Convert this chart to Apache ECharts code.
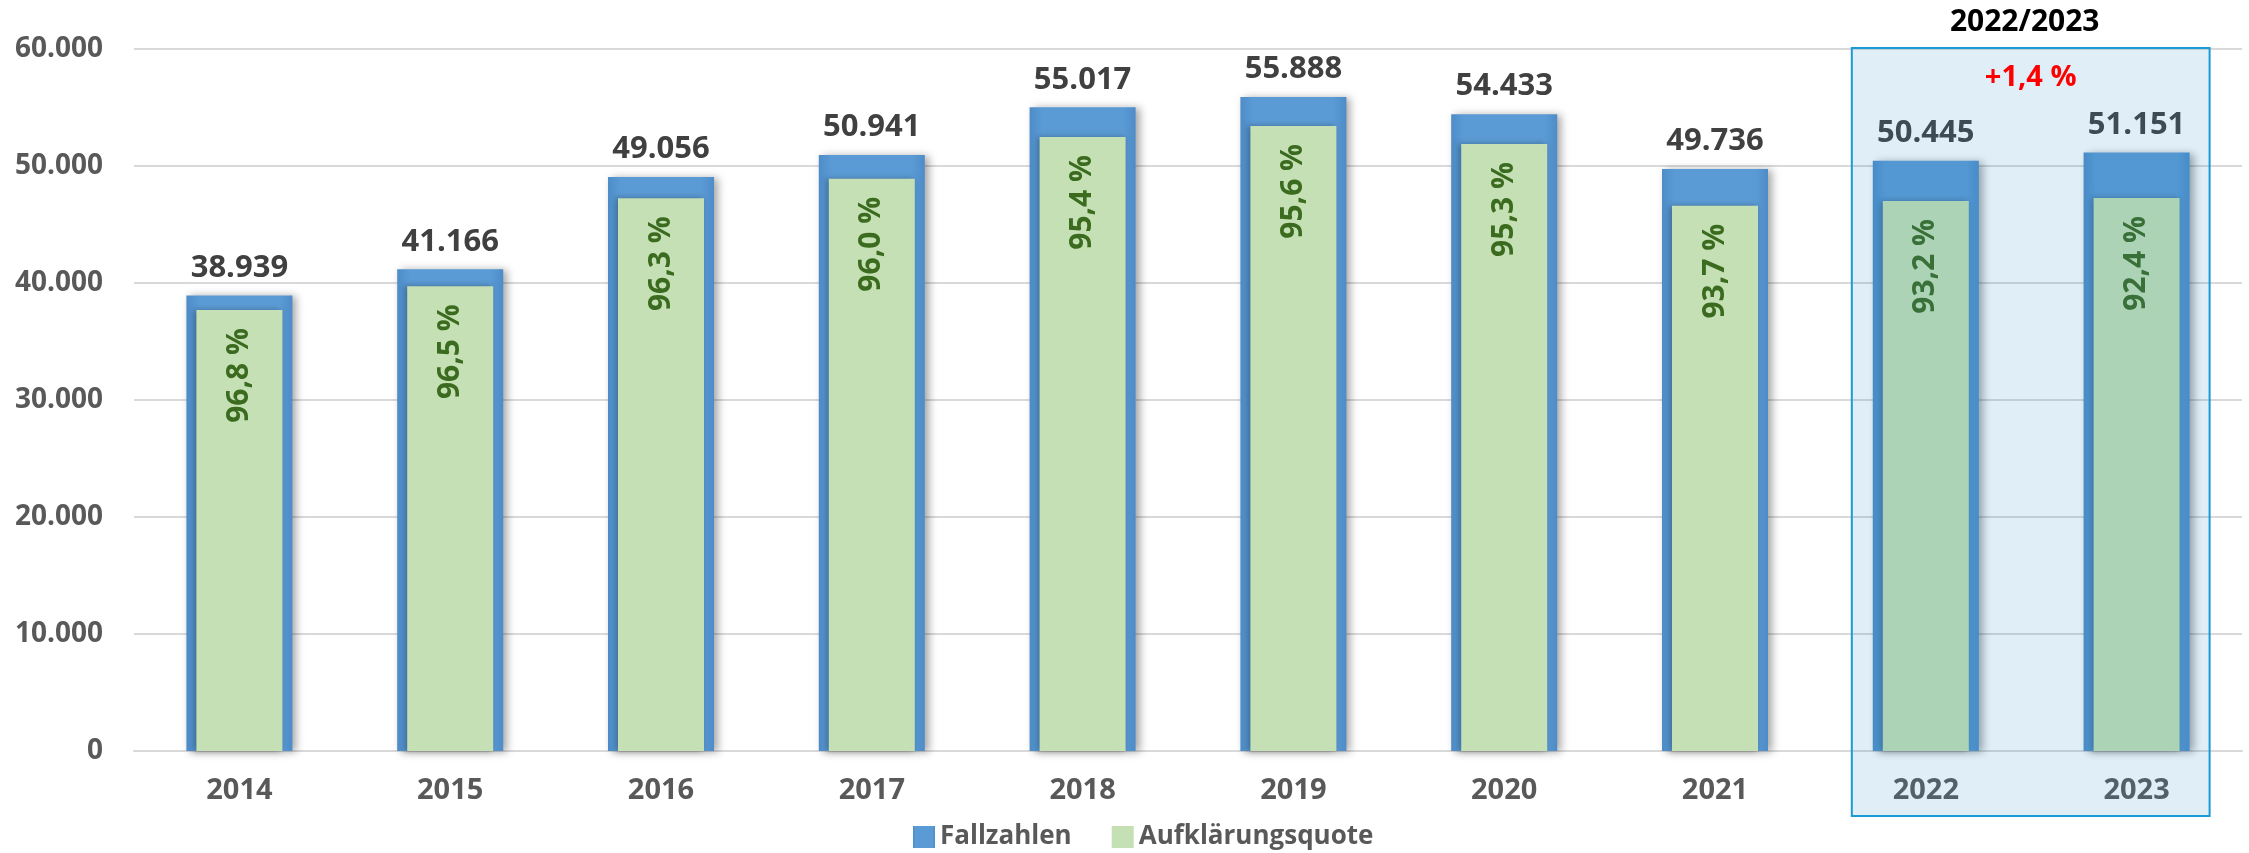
<!DOCTYPE html>
<html>
<head>
<meta charset="utf-8">
<script src="https://cdn.jsdelivr.net/npm/echarts@6/dist/echarts.min.js"></script>
<style>
html,body{margin:0;padding:0;background:#fff;}
#c{width:2249px;height:853px;}
</style>
</head>
<body>
<div id="c"></div>
<script>
const years = ['2014','2015','2016','2017','2018','2019','2020','2021','2022','2023'];
const fallzahlen = [38939, 41166, 49056, 50941, 55017, 55888, 54433, 49736, 50445, 51151];
const quote = [96.8, 96.5, 96.3, 96.0, 95.4, 95.6, 95.3, 93.7, 93.2, 92.4];
const yTicks = [0, 10000, 20000, 30000, 40000, 50000, 60000];
const highlightTitle = '2022/2023';
const highlightChange = '+1,4 %';
const highlightYears = ['2022', '2023'];

const FONT = '"Open Sans", "Noto Sans", sans-serif';
const fmtThousands = v => String(v).replace(/\B(?=(\d{3})+(?!\d))/g, '.');
const fmtPct = v => v.toFixed(1).replace('.', ',') + ' %';

const greenData = fallzahlen.map((v, i) => v * quote[i] / 100);

const chart = echarts.init(document.getElementById('c'), null, {renderer: 'canvas'});
const option = {
  animation: false,
  textStyle: {fontFamily: FONT},
  grid: {left: 134, right: 7, top: 49, bottom: 102, containLabel: false},
  legend: {
    data: ['Fallzahlen', 'Aufklärungsquote'],
    left: 908, top: 819,
    itemWidth: 22, itemHeight: 22, itemGap: 40,
    textStyle: {fontFamily: FONT, fontSize: 26, fontWeight: 'bold', color: '#595959'},
    icon: 'rect'
  },
  xAxis: [
    {
      type: 'category',
      data: years,
      axisTick: {show: false},
      axisLine: {show: true, lineStyle: {color: '#d9d9d9', width: 2}},
      axisLabel: {fontFamily: FONT, fontSize: 29, fontWeight: 'bold', color: '#595959', margin: 25}
    },
    {
      type: 'category',
      data: years,
      show: false
    }
  ],
  yAxis: {
    type: 'value',
    min: yTicks[0], max: yTicks[yTicks.length - 1], interval: yTicks[1] - yTicks[0],
    axisLine: {show: false},
    axisTick: {show: false},
    splitLine: {lineStyle: {color: '#d9d9d9', width: 2}},
    axisLabel: {fontFamily: FONT, fontSize: 28, fontWeight: 'bold', color: '#595959', margin: 31,
      formatter: v => fmtThousands(v)}
  },
  series: [
    {
      name: 'Fallzahlen',
      type: 'bar',
      data: fallzahlen,
      xAxisIndex: 0,
      barWidth: 106,
      z: 2,
      itemStyle: {
        color: new echarts.graphic.LinearGradient(0, 0, 1, 0, [
          {offset: 0, color: '#4d8cc8'},
          {offset: 0.12, color: '#5b9bd5'},
          {offset: 0.88, color: '#5b9bd5'},
          {offset: 1, color: '#4d8cc8'}
        ]),
        shadowColor: 'rgba(0,0,0,0.35)', shadowBlur: 8, shadowOffsetX: 4, shadowOffsetY: 1
      },
      label: {
        show: true, position: 'top', distance: 12,
        fontFamily: FONT, fontSize: 31, fontWeight: 'bold', color: '#404040',
        formatter: p => fmtThousands(p.value)
      }
    },
    {
      name: 'Aufklärungsquote',
      type: 'bar',
      data: greenData,
      xAxisIndex: 1,
      barWidth: 86,
      z: 3,
      itemStyle: {
        color: '#c5e0b4',
        shadowColor: 'rgba(0,0,0,0.3)', shadowBlur: 6, shadowOffsetX: -2, shadowOffsetY: 0
      },
      label: {
        show: true, position: 'insideTop', distance: 18, rotate: 90,
        align: 'right', verticalAlign: 'middle',
        fontFamily: FONT, fontSize: 30, fontWeight: 'bold', color: '#3b6b1f',
        formatter: p => fmtPct(quote[p.dataIndex])
      }
    }
  ]
};
chart.setOption(option);

function drawHighlight() {
  const c1 = chart.convertToPixel({xAxisIndex: 0}, highlightYears[0]);
  const c2 = chart.convertToPixel({xAxisIndex: 0}, highlightYears[1]);
  const x0 = c1 - 74, x1 = c2 + 73;
  const y0 = 48, y1 = 816;
  chart.setOption({
    graphic: [
      {type: 'rect', z: 100, silent: true,
       shape: {x: x0, y: y0, width: x1 - x0, height: y1 - y0},
       style: {fill: 'rgba(40,140,200,0.15)', stroke: '#1a9ad6', lineWidth: 2}},
      {type: 'text', z: 101, silent: true,
       style: {x: (x0 + x1) / 2 - 6, y: 22, text: highlightTitle, fill: '#000000',
         font: 'bold 30px ' + FONT, textAlign: 'center', textVerticalAlign: 'middle'}},
      {type: 'text', z: 101, silent: true,
       style: {x: (x0 + x1) / 2, y: 78, text: highlightChange, fill: '#ff0000',
         font: 'bold 29px ' + FONT, textAlign: 'center', textVerticalAlign: 'middle'}}
    ]
  });
}
drawHighlight();
</script>
</body>
</html>
